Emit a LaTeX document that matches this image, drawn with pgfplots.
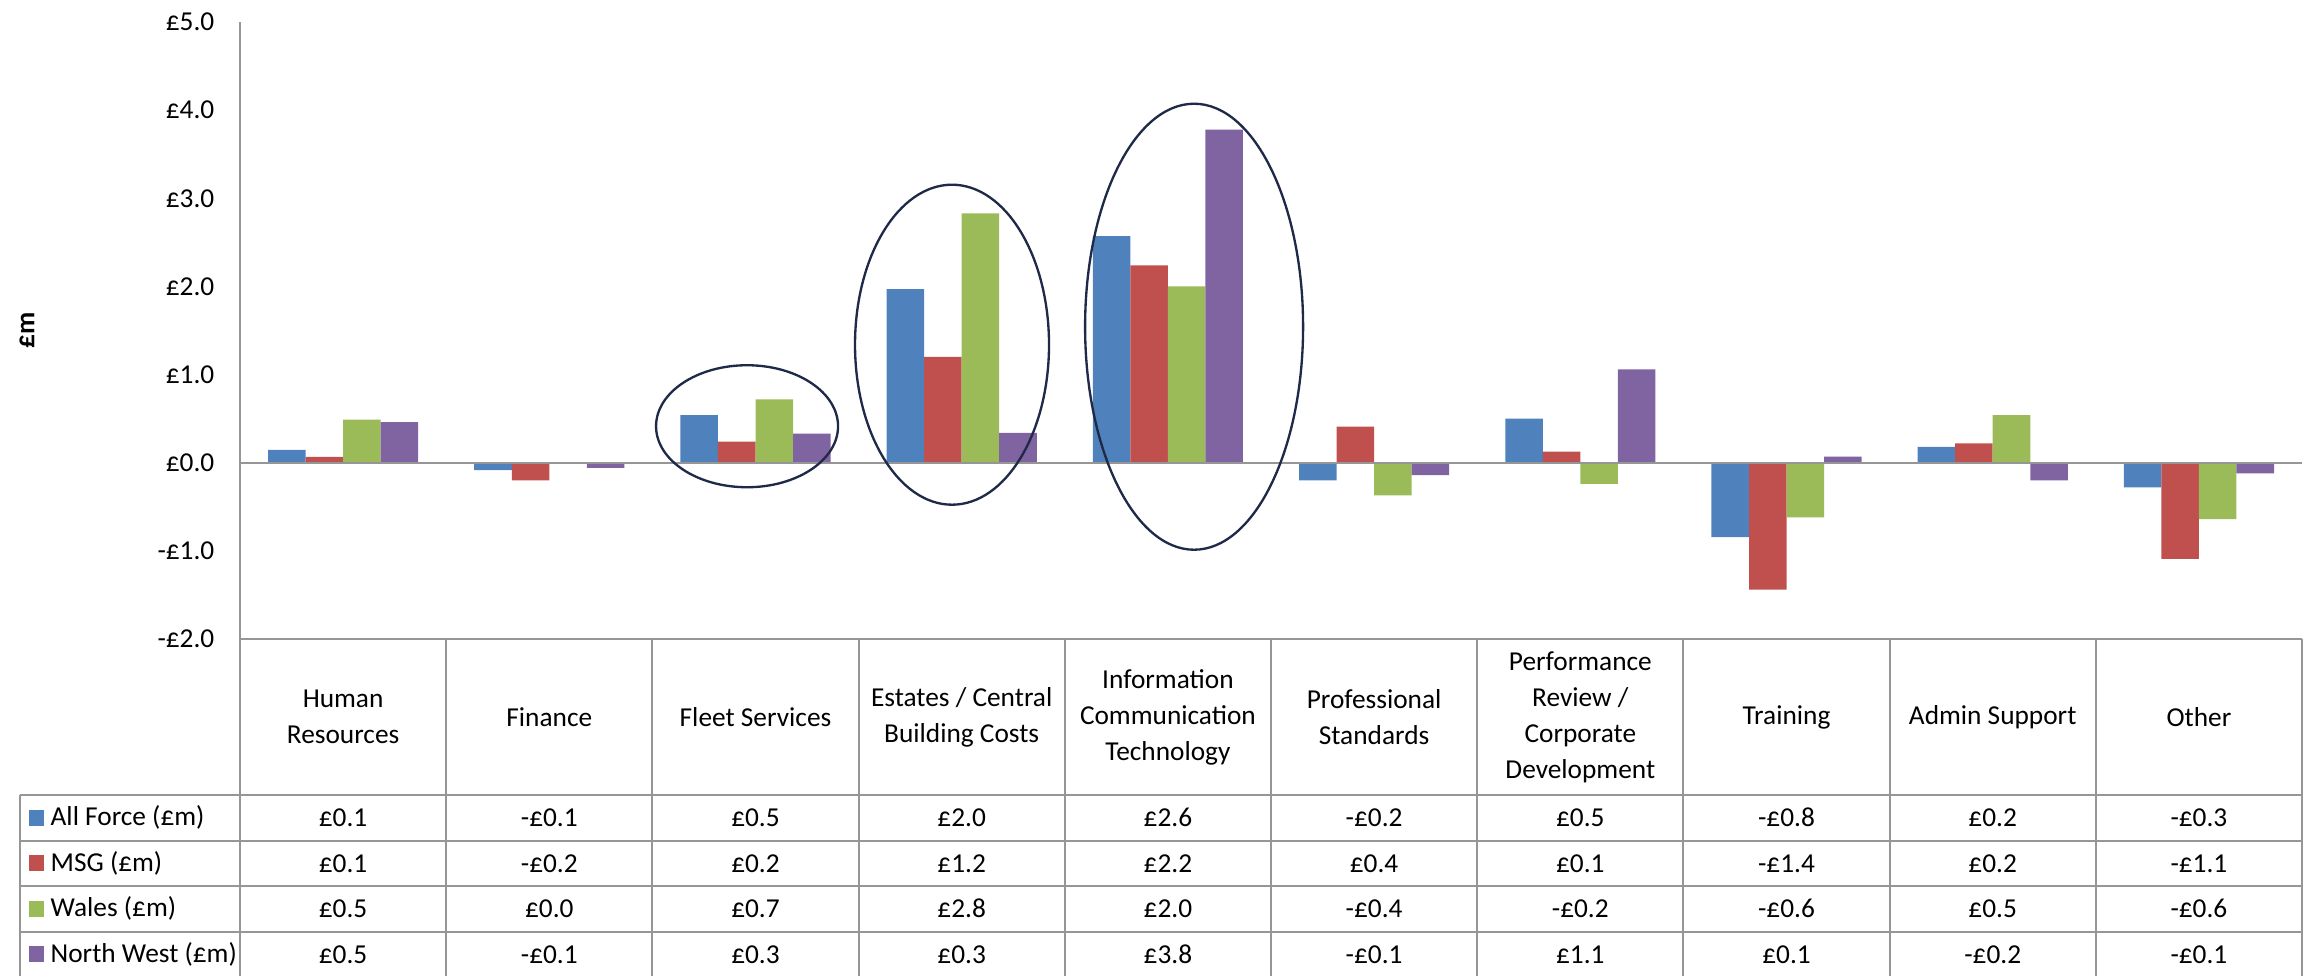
\documentclass[border=0pt]{standalone}
\usepackage{pgfplots}
\pgfplotsset{compat=1.18}
\usepackage{pgfplotstable}
\usepackage{fontspec}
\setmainfont{Carlito}

\definecolor{clrAF}{HTML}{4F81BD}
\definecolor{clrMSG}{HTML}{C0504D}
\definecolor{clrWal}{HTML}{9BBB59}
\definecolor{clrNW}{HTML}{8064A2}
\definecolor{clrGrid}{HTML}{969696}
\definecolor{clrRing}{HTML}{1F2A48}

% spend variance by function, GBP m
\pgfplotstableread{
x af msg wales nw
0 0.145 0.065 0.49 0.46
1 -0.085 -0.20 0.00 -0.057
2 0.54 0.24 0.72 0.33
3 1.97 1.20 2.83 0.34
4 2.57 2.24 2.00 3.78
5 -0.20 0.41 -0.37 -0.14
6 0.50 0.125 -0.24 1.06
7 -0.845 -1.44 -0.62 0.07
8 0.18 0.22 0.54 -0.20
9 -0.28 -1.09 -0.64 -0.12
}\spend

\newcommand{\tabfont}{\fontsize{8.2}{10.8}\selectfont}

\begin{document}
\begin{tikzpicture}[x=1pt,y=1pt,font=\tabfont]
\path[use as bounding box] (0,0) rectangle (696,292.8);
\begin{axis}[
  at={(72pt,101.1pt)}, anchor=south west,
  scale only axis, width=618.6pt, height=185.1pt,
  ybar=0pt, bar width=0.182,
  xmin=-0.5, xmax=9.5, ymin=-2, ymax=5,
  axis y line*=left, axis x line=none,
  axis line style={draw=clrGrid, line width=0.6pt, -},
  xtick=\empty,
  ytick={-2,...,5},
  yticklabels={-£2.0,-£1.0,£0.0,£1.0,£2.0,£3.0,£4.0,£5.0},
  major tick length=0pt,
  yticklabel style={font=\tabfont, inner sep=0pt, xshift=-7.5pt},
  clip=false,
]
\addplot[draw=none, fill=clrAF] table[x=x,y=af]{\spend};
\addplot[draw=none, fill=clrMSG] table[x=x,y=msg]{\spend};
\addplot[draw=none, fill=clrWal] table[x=x,y=wales]{\spend};
\addplot[draw=none, fill=clrNW] table[x=x,y=nw]{\spend};
\draw[clrGrid, line width=0.6pt] (axis cs:-0.5,0) -- (axis cs:9.5,0);
% highlight rings
\draw[clrRing, line width=0.7pt] (axis cs:1.959,0.414) ellipse [x radius=27.3pt, y radius=18.3pt];
\draw[clrRing, line width=0.7pt] (axis cs:2.953,1.339) ellipse [x radius=29.1pt, y radius=48pt];
\draw[clrRing, line width=0.7pt] (axis cs:4.127,1.543) ellipse [x radius=32.7pt, y radius=66.9pt];
\end{axis}

% data table under the plot
\begin{scope}[clrGrid, line width=0.6pt]
  \draw (72,101.1) -- (690.6,101.1);
  \foreach \k in {0,...,10} \draw ({72+61.86*\k},101.1) -- ({72+61.86*\k},0);
  \draw (6,54.3) -- (6,0);
  \foreach \yy in {54.3,40.5,27.0,13.2} \draw (6,\yy) -- (690.6,\yy);
\end{scope}

\foreach \lab [count=\k from 0] in {
  {Human\\Resources}, {Finance}, {Fleet Services}, {Estates / Central\\Building Costs},
  {Information\\Communication\\Technology}, {Professional\\Standards},
  {Performance\\Review /\\Corporate\\Development}, {Training}, {Admin Support}, {Other}}
  \node[align=center, inner sep=0pt] at ({102.93+61.86*\k},77.7) {\lab};

\fill[clrAF]  (8.7,45.1) rectangle (13.2,49.9);
\fill[clrMSG] (8.7,31.4) rectangle (13.2,36.2);
\fill[clrWal] (8.7,17.8) rectangle (13.2,22.6);
\fill[clrNW]  (8.7,4.1)  rectangle (13.2,8.9);
\node[anchor=west, inner sep=0pt] at (15,47.5) {All Force (£m)};
\node[anchor=west, inner sep=0pt] at (15,33.8) {MSG (£m)};
\node[anchor=west, inner sep=0pt] at (15,20.2) {Wales (£m)};
\node[anchor=west, inner sep=0pt] at (15,6.5) {North West (£m)};

\foreach \v [count=\k from 0] in {£0.1,-£0.1,£0.5,£2.0,£2.6,-£0.2,£0.5,-£0.8,£0.2,-£0.3}
  \node[inner sep=0pt] at ({102.93+61.86*\k},47.5) {\v};
\foreach \v [count=\k from 0] in {£0.1,-£0.2,£0.2,£1.2,£2.2,£0.4,£0.1,-£1.4,£0.2,-£1.1}
  \node[inner sep=0pt] at ({102.93+61.86*\k},33.8) {\v};
\foreach \v [count=\k from 0] in {£0.5,£0.0,£0.7,£2.8,£2.0,-£0.4,-£0.2,-£0.6,£0.5,-£0.6}
  \node[inner sep=0pt] at ({102.93+61.86*\k},20.2) {\v};
\foreach \v [count=\k from 0] in {£0.5,-£0.1,£0.3,£0.3,£3.8,-£0.1,£1.1,£0.1,-£0.2,-£0.1}
  \node[inner sep=0pt] at ({102.93+61.86*\k},6.5) {\v};

\node[rotate=90, font=\tabfont\bfseries] at (8.1,193.8) {£m};
\end{tikzpicture}
\end{document}
